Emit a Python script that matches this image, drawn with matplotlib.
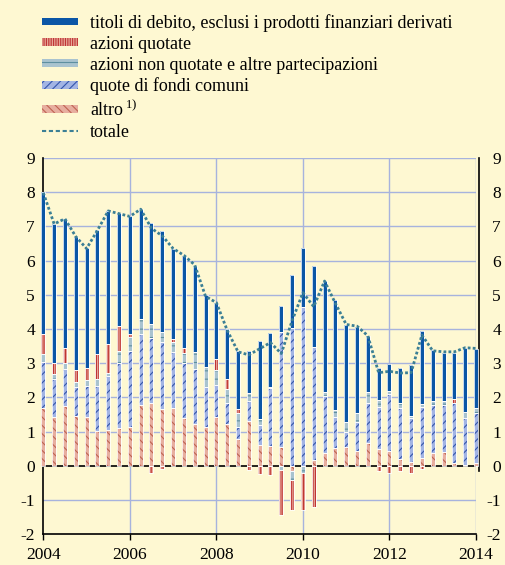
import numpy as np
import matplotlib
matplotlib.use("Agg")
import matplotlib.pyplot as plt
from matplotlib.patches import Patch
from matplotlib.lines import Line2D
import matplotlib.transforms as mtransforms

plt.rcParams['font.family'] = ['Liberation Serif', 'DejaVu Serif']
plt.rcParams['mathtext.fontset'] = 'custom'
plt.rcParams['mathtext.rm'] = 'Liberation Serif'
plt.rcParams['axes.unicode_minus'] = False
plt.rcParams['hatch.linewidth'] = 0.8

# quarterly data, 2004 Q1 .. 2014 Q1
periods = 2004 + np.arange(41) * 0.25

altro = [1.70, 1.41, 1.75, 1.46, 1.41, 1.01, 1.04, 1.09, 1.13, 1.77,
         1.84, 1.65, 1.70, 1.39, 1.21, 1.14, 1.41, 1.21, 0.77, 1.32,
         0.61, 0.58, 0.56, -0.15, 0.00, 0.17, 0.36, 0.53, 0.54, 0.43,
         0.65, 0.48, 0.44, 0.19, 0.12, 0.22, 0.36, 0.41, 0.07, 0.02, 0.09]
fondi = [1.34, 1.12, 1.09, 0.85, 0.93, 1.32, 1.58, 1.92, 2.23, 2.08,
         1.88, 1.98, 1.63, 1.62, 1.61, 1.17, 0.95, 0.63, 0.37, 0.58,
         0.58, 1.68, 3.36, 4.02, 4.63, 3.29, 1.69, 0.90, 0.46, 0.86,
         1.19, 1.23, 1.66, 1.49, 1.27, 1.51, 1.42, 1.37, 1.77, 1.37, 1.44]
non_quotate = [0.23, 0.15, 0.15, 0.14, 0.17, 0.21, 0.10, 0.35, 0.39, 0.43,
               0.42, 0.29, 0.28, 0.28, 0.50, 0.59, 0.44, 0.41, 0.39, 0.24,
               0.17, 0.05, -0.13, -0.27, -0.20, 0.00, 0.10, 0.20, 0.27, 0.26,
               0.32, 0.21, 0.08, 0.16, 0.07, 0.07, 0.10, 0.10, 0.00, 0.17, 0.15]
quotate = [0.58, 0.33, 0.44, 0.34, 0.34, 0.72, 0.83, 0.72, 0.10, 0.00,
           -0.20, -0.10, 0.10, 0.14, 0.00, 0.00, 0.32, 0.28, 0.13, -0.12,
           -0.24, -0.27, -1.31, -0.88, -1.10, -1.20, 0.00, 0.00, 0.00, 0.00,
           0.00, -0.15, -0.20, -0.15, -0.22, -0.10, 0.00, 0.00, 0.10, 0.00, 0.00]
debito = [4.14, 4.05, 3.77, 3.89, 3.51, 3.63, 3.91, 3.30, 3.45, 3.23,
          2.95, 2.94, 2.62, 2.70, 2.52, 2.09, 1.65, 1.46, 1.70, 1.22,
          2.29, 1.56, 0.75, 1.56, 1.75, 2.38, 3.24, 3.22, 2.85, 2.52,
          1.63, 0.93, 0.79, 1.03, 1.49, 2.14, 1.49, 1.43, 1.37, 1.88, 1.72]
totale = [7.98, 7.07, 7.22, 6.70, 6.35, 6.88, 7.45, 7.37, 7.29, 7.50,
          6.94, 6.72, 6.35, 6.15, 5.87, 4.95, 4.77, 3.96, 3.33, 3.24,
          3.42, 3.60, 3.28, 4.24, 5.06, 4.65, 5.40, 4.75, 4.13, 4.08,
          3.80, 2.72, 2.76, 2.71, 2.72, 3.82, 3.36, 3.33, 3.33, 3.45, 3.43]

labels = ["titoli di debito, esclusi i prodotti finanziari derivati",
          "azioni quotate",
          "azioni non quotate e altre partecipazioni",
          "quote di fondi comuni",
          "altro$^{\\,\\mathrm{1)}}$",
          "totale"]
x_ticks = [2004, 2006, 2008, 2010, 2012, 2014]
y_ticks = list(range(-2, 10))

bg = '#FEF8D2'
c_deb = '#0B56A6'
st_q = dict(face='#E6A596', hatch='|||||||', hc='#BF3434')
st_nq = dict(face='#A9C3CF', hatch='--', hc='#5E8FA0')
st_f = dict(face='#A2B4E4', hatch='////', hc='#3456AC')
st_a = dict(face='#E7AE9F', hatch='\\\\\\\\', hc='#BF6252')
c_tot = '#3B7F95'
grid_c = '#A7B3DD'

fig = plt.figure(figsize=(5.06, 5.65), dpi=100, facecolor=bg)
ax = fig.add_axes([0.0856, 0.0547, 0.8551, 0.6658])
ax.set_facecolor(bg)
ax.set_xlim(2004, 2014)
ax.set_ylim(-2, 9)

# grid
for yv in y_ticks:
    if yv in (0, -2):
        continue
    ax.axhline(yv, color=grid_c, lw=1.0, zorder=1)
for xv in x_ticks[1:]:
    ax.axvline(xv, color=grid_c, lw=1.0, zorder=1)
ax.axhline(0, color='black', lw=1.2, zorder=2)

w = 0.092
pos_b = np.zeros(len(periods))
neg_b = np.zeros(len(periods))
series = [(altro, st_a), (fondi, st_f), (non_quotate, st_nq), (quotate, st_q), (debito, None)]
for vals, st in series:
    v = np.array(vals, dtype=float)
    m = v != 0
    bottom = np.where(v >= 0, pos_b, neg_b)
    if st is None:
        ax.bar(periods[m], v[m], width=w, bottom=bottom[m], color=c_deb,
               linewidth=0, zorder=3, clip_on=False)
    else:
        ax.bar(periods[m], v[m], width=w, bottom=bottom[m], color=st['face'],
               hatch=st['hatch'], edgecolor=st['hc'], linewidth=0, zorder=3, clip_on=False)
    ax.bar(periods[m], v[m], width=w, bottom=bottom[m], fill=False,
           edgecolor='white', linewidth=0.55, zorder=3.2, clip_on=False)
    pos_b += np.clip(v, 0, None)
    neg_b += np.clip(v, None, 0)

ax.plot(periods, totale, color=c_tot, lw=2.0, linestyle=(0, (1.0, 0.8)),
        zorder=4, clip_on=False)

# spines
for s in ['top', 'right']:
    ax.spines[s].set_visible(False)
ax.spines['left'].set_linewidth(1.2)
ax.spines['bottom'].set_linewidth(1.2)
ax.spines['left'].set_zorder(2.5)
trans = mtransforms.blended_transform_factory(ax.transAxes, ax.transData)
ax.plot([1.0078, 1.0078], [9, -0.15], color='black', lw=1.2, transform=trans, clip_on=False)

ax.set_xticks(x_ticks)
ax.set_xticklabels([str(t) for t in x_ticks], fontsize=12.5)
ax.tick_params(axis='x', direction='out', length=4, width=1.0, pad=5)
ax.set_yticks(y_ticks)
ax.set_yticklabels([str(t) for t in y_ticks], fontsize=12.5)
ax.tick_params(axis='y', length=0, pad=6)

ax2 = ax.twinx()
ax2.set_ylim(-2, 9)
ax2.set_yticks(y_ticks)
ax2.set_yticklabels([str(t) for t in y_ticks], fontsize=12.5)
for lab in ax2.get_yticklabels():
    lab.set_horizontalalignment('right')
ax2.tick_params(axis='y', length=0, pad=18)
for s in ax2.spines.values():
    s.set_visible(False)

handles = [
    Patch(facecolor=c_deb, linewidth=0),
    Patch(facecolor=st_q['face'], hatch=st_q['hatch'], edgecolor=st_q['hc'], linewidth=0),
    Patch(facecolor=st_nq['face'], hatch=st_nq['hatch'], edgecolor=st_nq['hc'], linewidth=0),
    Patch(facecolor=st_f['face'], hatch=st_f['hatch'], edgecolor=st_f['hc'], linewidth=0),
    Patch(facecolor=st_a['face'], hatch=st_a['hatch'], edgecolor=st_a['hc'], linewidth=0),
    Line2D([0], [0], color=c_tot, lw=1.5, linestyle=(0, (2.0, 1.3))),
]
fig.legend(handles, labels, loc='upper left', bbox_to_anchor=(0.083, 0.975),
           frameon=False, fontsize=13, handlelength=2.0, handleheight=0.28,
           handletextpad=0.65, labelspacing=0.21, borderpad=0, borderaxespad=0)

fig.savefig('out.png', dpi=100, facecolor=bg)
